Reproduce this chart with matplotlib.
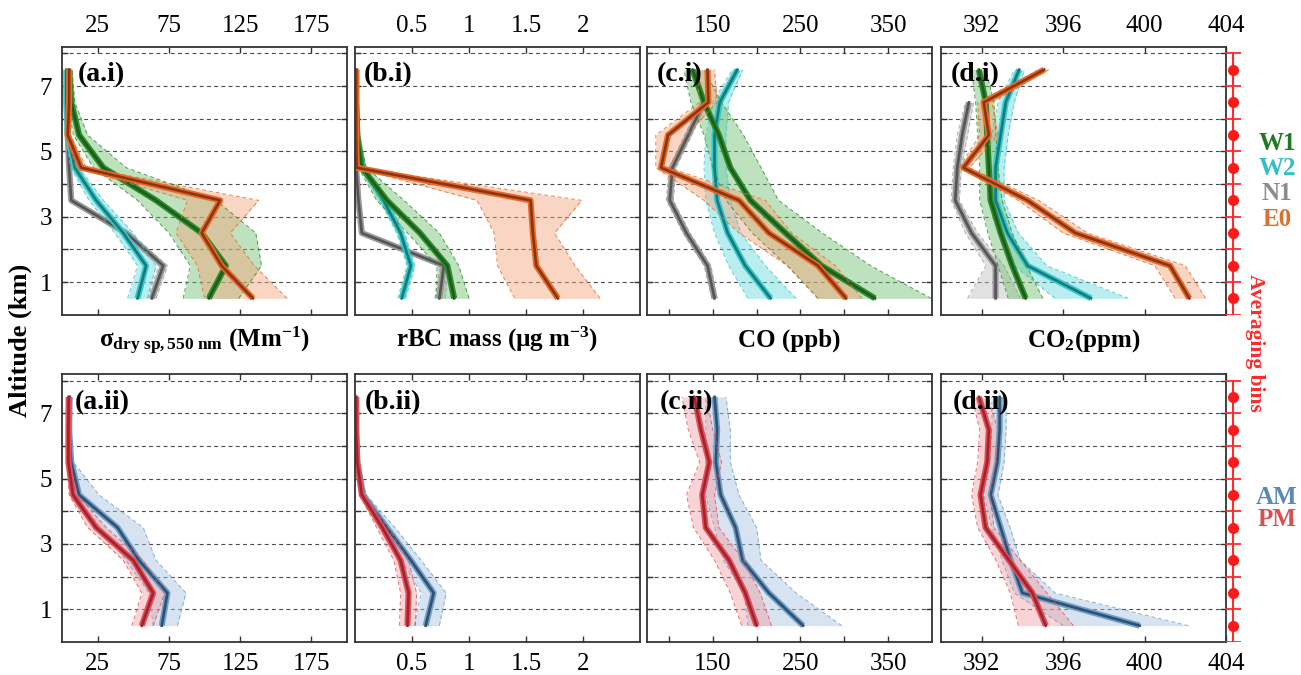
import numpy as np
import matplotlib
matplotlib.use("Agg")
from matplotlib import pyplot as plt

plt.rcParams['font.family'] = ['Liberation Serif', 'DejaVu Serif']
plt.rcParams['mathtext.fontset'] = 'custom'
plt.rcParams['mathtext.rm'] = 'Liberation Serif'
plt.rcParams['mathtext.bf'] = 'Liberation Serif:bold'
plt.rcParams['mathtext.it'] = 'Liberation Serif:italic'

# altitude bin centres (km)
alt = [0.5, 1.5, 2.5, 3.5, 4.5, 5.5, 6.5, 7.5]
nan = np.nan

# ---- (a) scattering, Mm-1 ----
a_W1 = [103, 115, 98, 66, 29, 12, 6.5, 5]
a_W1_lo = [85, 90, 75, 53, 22, 8, 4, 3.5]
a_W1_hi = [124, 140, 136, 108, 45, 18, 9, 7]
a_W2 = [53, 59, 43, 24, 9, 4, 3, 3]
a_W2_lo = [46, 53, 37, 19, 6, 2.5, 2, 2]
a_W2_hi = [60, 66, 50, 29, 12, 6, 4, 4]
a_N1 = [63, 71, 45, 6.5, 5, 4, 4.5, nan]
a_N1_lo = [60, 68, 42, 5, 4, 3, 3.5, nan]
a_N1_hi = [66, 74, 48, 8, 6, 5, 5.5, nan]
a_E0 = [134, 112, 98, 111, 13.5, 4, 5, 5]
a_E0_lo = [100, 95, 80, 88, 10, 2.5, 4, 4]
a_E0_hi = [158, 135, 118, 138, 17, 6, 6.5, 6.5]
a_AM = [70, 74, 54, 39, 12, 6.5, 5, 5.4]
a_AM_lo = [64, 61, 45, 27, 9, 5, 4, 4]
a_AM_hi = [81, 87, 66, 57, 26, 8, 6, 6.5]
a_PM = [56, 64, 50, 24, 7.7, 4.5, 4.5, 4.7]
a_PM_lo = [49, 56, 43, 18, 5, 3.5, 3.5, 3.5]
a_PM_hi = [64, 72, 57, 31, 11, 5.5, 5.5, 6]

# ---- (b) rBC mass, ug m-3 ----
b_W1 = [0.87, 0.81, 0.57, 0.28, 0.06, 0.02, 0.01, 0.01]
b_W1_lo = [0.71, 0.72, 0.46, 0.19, 0.03, 0.01, 0.005, 0.005]
b_W1_hi = [1.0, 0.91, 0.74, 0.43, 0.10, 0.03, 0.015, 0.015]
b_W2 = [0.41, 0.49, 0.40, 0.25, 0.07, 0.02, 0.01, 0.01]
b_W2_lo = [0.375, 0.455, 0.365, 0.215, 0.05, 0.01, 0.005, 0.005]
b_W2_hi = [0.445, 0.525, 0.435, 0.285, 0.09, 0.03, 0.015, 0.015]
b_N1 = [0.74, 0.78, 0.06, 0.03, 0.01, 0.005, 0.005, nan]
b_N1_lo = [0.70, 0.75, 0.05, 0.02, 0.005, 0.003, 0.003, nan]
b_N1_hi = [0.79, 0.82, 0.07, 0.04, 0.015, 0.008, 0.008, nan]
b_E0 = [1.78, 1.59, 1.56, 1.54, 0.015, 0.01, 0.01, 0.01]
b_E0_lo = [1.40, 1.25, 1.22, 1.07, 0.005, 0.005, 0.005, 0.005]
b_E0_hi = [2.15, 1.93, 1.75, 1.99, 0.03, 0.015, 0.015, 0.015]
b_AM = [0.62, 0.69, 0.49, 0.28, 0.07, 0.02, 0.01, 0.01]
b_AM_lo = [0.52, 0.58, 0.41, 0.22, 0.05, 0.01, 0.005, 0.005]
b_AM_hi = [0.74, 0.80, 0.58, 0.35, 0.10, 0.03, 0.015, 0.015]
b_PM = [0.46, 0.47, 0.40, 0.24, 0.06, 0.02, 0.01, 0.01]
b_PM_lo = [0.39, 0.40, 0.34, 0.19, 0.04, 0.01, 0.005, 0.005]
b_PM_hi = [0.53, 0.54, 0.47, 0.29, 0.08, 0.03, 0.015, 0.015]

# ---- (c) CO, ppb ----
c_W1 = [335, 274, 233, 193, 170, 157, 140, 127]
c_W1_lo = [270, 235, 195, 165, 150, 140, 125, 117]
c_W1_hi = [399, 330, 275, 225, 205, 185, 160, 140]
c_W2 = [216, 187, 167, 155, 152, 152, 158, 178]
c_W2_lo = [190, 168, 152, 142, 140, 142, 150, 172]
c_W2_hi = [245, 210, 182, 170, 165, 165, 168, 184]
c_N1 = [152, 144, 120, 101, 104, 122, 140, nan]
c_N1_lo = [149, 140, 116, 97, 100, 118, 136, nan]
c_N1_hi = [155, 148, 124, 105, 108, 126, 144, nan]
c_E0 = [302, 270, 214, 180, 91, 99, 145, 144]
c_E0_lo = [270, 235, 180, 140, 85, 85, 135, 132]
c_E0_hi = [320, 290, 240, 210, 100, 120, 155, 152]
c_AM = [253, 214, 184, 176, 159, 153.5, 155, 152]
c_AM_lo = [190, 186, 162, 152, 142, 142, 142, 142]
c_AM_hi = [297, 245, 205, 200, 180, 170, 170, 165]
c_PM = [200, 187, 168.6, 142, 138, 146, 136.5, 129]
c_PM_lo = [183, 170, 152, 128, 120, 135, 122, 115]
c_PM_hi = [217, 204, 185, 157, 152, 160, 150, 143]

# ---- (d) CO2, ppm ----
d_W1 = [394.16, 393.5, 392.93, 392.44, 392.35, 392.27, 392.2, 391.86]
d_W1_lo = [393.3, 392.8, 392.3, 391.9, 391.9, 391.8, 391.7, 391.5]
d_W1_hi = [395.0, 394.2, 393.5, 393.0, 392.8, 392.7, 392.6, 392.2]
d_W2 = [397.37, 394.25, 393.26, 392.68, 392.68, 392.93, 393.18, 393.84]
d_W2_lo = [395.6, 393.6, 392.8, 392.3, 392.3, 392.5, 392.8, 393.6]
d_W2_hi = [399.2, 395.2, 393.8, 393.1, 393.1, 393.3, 393.6, 394.1]
d_N1 = [392.68, 392.68, 391.5, 390.7, 390.8, 391.04, 391.37, nan]
d_N1_lo = [391.3, 392.2, 391.2, 390.5, 390.6, 390.8, 391.2, nan]
d_N1_hi = [393.9, 393.1, 391.8, 390.9, 391.0, 391.3, 391.6, nan]
d_E0 = [402.2, 401.25, 396.6, 394.25, 391.1, 392.35, 392.1, 395.07]
d_E0_lo = [401.5, 400.5, 396.0, 393.8, 390.9, 391.9, 391.8, 394.8]
d_E0_hi = [403.0, 402.0, 397.2, 394.8, 391.4, 392.8, 392.5, 395.3]
d_AM = [399.76, 394.0, 393.42, 392.93, 392.44, 392.77, 392.88, 392.88]
d_AM_lo = [396.0, 393.6, 393.0, 392.5, 392.1, 392.4, 392.5, 392.5]
d_AM_hi = [402.15, 395.6, 393.9, 393.4, 392.8, 393.1, 393.2, 393.2]
d_PM = [395.15, 394.49, 393.34, 392.19, 391.94, 392.27, 392.35, 391.86]
d_PM_lo = [393.8, 393.4, 392.7, 391.8, 391.5, 391.8, 391.9, 391.5]
d_PM_hi = [396.5, 395.2, 393.9, 392.6, 392.4, 392.7, 392.8, 392.3]

xlims = [(0, 200), (0, 2.5), (75, 400), (390, 404)]
xticks = [[25, 75, 125, 175], [0.5, 1, 1.5, 2], [100, 150, 200, 250, 300, 350],
          [392, 396, 400, 404]]
xticklabels = [['25', '75', '125', '175'], ['0.5', '1', '1.5', '2'],
               ['', '150', '', '250', '', '350'], ['392', '396', '400', '404']]
xlabels = ['σ$_{\\mathbf{dry\\ sp,550\\ nm}}$ (Mm$^{\\mathbf{-1}}$)',
           'rBC mass (µg m$^{\\mathbf{-3}}$)', 'CO (ppb)', 'CO$_{\\mathbf{2}}$(ppm)']
labels_top = ['(a.i)', '(b.i)', '(c.i)', '(d.i)']
labels_bot = ['(a.ii)', '(b.ii)', '(c.ii)', '(d.ii)']

# group styles: outer line, core line, fill
sty = {
    'W1': ('#2e8b2e', '#1a5e1a', '#6fbf6f'),
    'W2': ('#3cc8c8', '#137a80', '#66d9dd'),
    'N1': ('#9a9a9a', '#555555', '#bdbdbd'),
    'E0': ('#e8692a', '#8a3510', '#f3a47c'),
    'AM': ('#6f9fc8', '#2f5070', '#a7c3e0'),
    'PM': ('#e0505a', '#a3222b', '#f0a0a5'),
}

top_data = [
    [('N1', a_N1, a_N1_lo, a_N1_hi), ('W2', a_W2, a_W2_lo, a_W2_hi),
     ('W1', a_W1, a_W1_lo, a_W1_hi), ('E0', a_E0, a_E0_lo, a_E0_hi)],
    [('N1', b_N1, b_N1_lo, b_N1_hi), ('W2', b_W2, b_W2_lo, b_W2_hi),
     ('W1', b_W1, b_W1_lo, b_W1_hi), ('E0', b_E0, b_E0_lo, b_E0_hi)],
    [('N1', c_N1, c_N1_lo, c_N1_hi), ('W2', c_W2, c_W2_lo, c_W2_hi),
     ('W1', c_W1, c_W1_lo, c_W1_hi), ('E0', c_E0, c_E0_lo, c_E0_hi)],
    [('N1', d_N1, d_N1_lo, d_N1_hi), ('W2', d_W2, d_W2_lo, d_W2_hi),
     ('W1', d_W1, d_W1_lo, d_W1_hi), ('E0', d_E0, d_E0_lo, d_E0_hi)],
]
bot_data = [
    [('AM', a_AM, a_AM_lo, a_AM_hi), ('PM', a_PM, a_PM_lo, a_PM_hi)],
    [('AM', b_AM, b_AM_lo, b_AM_hi), ('PM', b_PM, b_PM_lo, b_PM_hi)],
    [('AM', c_AM, c_AM_lo, c_AM_hi), ('PM', c_PM, c_PM_lo, c_PM_hi)],
    [('AM', d_AM, d_AM_lo, d_AM_hi), ('PM', d_PM, d_PM_lo, d_PM_hi)],
]


def profile(ax, key, x, lo, hi):
    c_line, c_core, c_fill = sty[key]
    ax.fill_betweenx(alt, lo, hi, color=c_fill, alpha=0.45, lw=0)
    ax.plot(lo, alt, color=c_line, lw=0.7, ls=(0, (4, 3)), alpha=0.8)
    ax.plot(hi, alt, color=c_line, lw=0.7, ls=(0, (4, 3)), alpha=0.8)
    ax.plot(x, alt, color=c_line, lw=4.4, solid_capstyle='butt')
    ax.plot(x, alt, color=c_core, lw=1.9)


W = 1301.0
H = 675.0
lefts = [62, 355, 647, 941]
pw = 285
rows = [(46.8, 314.7), (374, 642)]

fig = plt.figure(figsize=(W / 100, H / 100), dpi=100)

for r, (ytop, ybot) in enumerate(rows):
    for i in range(4):
        ax = fig.add_axes([lefts[i] / W, 1 - ybot / H, pw / W, (ybot - ytop) / H])
        data = top_data[i] if r == 0 else bot_data[i]
        for key, x, lo, hi in data:
            profile(ax, key, x, lo, hi)
        ax.set_xlim(*xlims[i])
        ax.set_ylim(0, 8.2)
        ax.set_yticks(range(1, 9))
        if i == 0:
            ax.set_yticklabels(['1', '', '3', '', '5', '', '7', ''])
        else:
            ax.set_yticklabels([])
        for yy in range(1, 9):
            ax.axhline(yy, color='#4a4a4a', lw=0.8, ls=(0, (3.5, 3)), zorder=0)
        ax.set_xticks(xticks[i])
        ax.set_xticklabels(xticklabels[i])
        ax.tick_params(direction='in', length=4, width=1, colors='#333333',
                       labelcolor='black', labelsize=18,
                       top=True, bottom=True, left=True, right=True)
        ax.tick_params(axis='y', pad=7)
        if r == 0:
            ax.tick_params(axis='x', labeltop=True, labelbottom=False, pad=7)
        else:
            ax.tick_params(axis='x', labeltop=False, labelbottom=True, pad=8)
        for sp in ax.spines.values():
            sp.set_color('#333333')
            sp.set_linewidth(1.3)
        lab = labels_top[i] if r == 0 else labels_bot[i]
        lx = [0.055, 0.03, 0.035, 0.035][i] if r == 0 else [0.046, 0.035, 0.045, 0.042][i]
        ax.text(lx, 0.895, lab, transform=ax.transAxes, ha='left', va='center',
                fontsize=20, fontweight='bold', zorder=10)

        # averaging bins axis to the right of the last column
        if i == 3:
            axb = fig.add_axes([(1233 - 15) / W, 1 - ybot / H, 30 / W, (ybot - ytop) / H])
            axb.set_xlim(-1, 1)
            axb.set_ylim(0, 8.2)
            axb.axis('off')
            axb.plot([0, 0], [0, 8], color='#ff2a2a', lw=1.5)
            axb.hlines(range(0, 9), -0.55, 0.55, color='#ff2a2a', lw=1.3)
            axb.plot([0] * len(alt), alt, 'o', color='#ff1a1a', ms=7)

# axis labels between the rows
for i in range(4):
    cx = (lefts[i] + pw / 2) / W
    fig.text(cx, 1 - 347 / H, xlabels[i], ha='center', va='baseline',
             fontsize=18, fontweight='bold')

fig.text(20 / W, 1 - 340 / H, 'Altitude (km)', rotation=90, ha='center', va='center',
         fontsize=19, fontweight='bold')

fig.text(1255 / W, 1 - 343 / H, 'Averaging bins', rotation=270, ha='center', va='center',
         fontsize=15.5, fontweight='bold', color='#ff2a2a')

legend_top = [('W1', '#1e7a1e', 143), ('W2', '#33c0c0', 168),
              ('N1', '#8c8c8c', 194), ('E0', '#d8722e', 219)]
legend_bot = [('AM', '#5b88b5', 497), ('PM', '#d9514f', 519)]
for name, col, yy in legend_top + legend_bot:
    fig.text(1277 / W, 1 - yy / H, name, ha='center', va='center',
             fontsize=18, fontweight='bold', color=col)

fig.savefig('out.png', dpi=100)
